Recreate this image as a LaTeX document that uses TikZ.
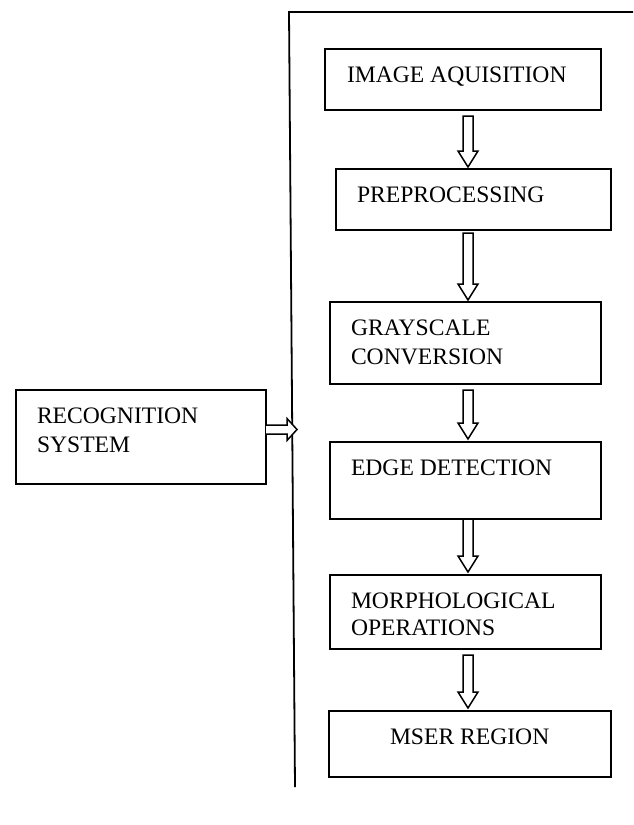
\documentclass[tikz,border=0pt]{standalone}
\usepackage{fontspec}
\setmainfont{Liberation Serif}
\usetikzlibrary{calc}
\tikzset{
  box/.style={draw, line width=1.8pt, inner sep=0pt, outer sep=0pt},
  lbl/.style={anchor=base west, inner sep=0pt, outer sep=0pt, align=left,
    font=\fontsize{23.6}{29}\selectfont},
  blk/.style={draw, line width=1.5pt, line join=miter, fill=white},
  rail/.style={draw, line width=1.8pt}
}
% #1 = start point of shaft, #2 = tip point (vertical, downward)
\newcommand\downblk[2]{%
  \path[blk] ($(#1)+(-5,0)$) -- ($(#2)+(-5,-16)$) -- ($(#2)+(-10,-16)$) -- (#2)
    -- ($(#2)+(10,-16)$) -- ($(#2)+(5,-16)$) -- ($(#1)+(5,0)$) -- cycle;}
\begin{document}
\begin{tikzpicture}[x=1pt,y=-1pt]
\useasboundingbox (0,0) rectangle (633,825);

% rail
\coordinate (rtr) at (633,12);
\coordinate (rtl) at (289,12);
\coordinate (rbot) at (295,787);
\path[rail] (rtr) -- (rtl) -- (rbot);

% boxes
\node[box, minimum width=276pt, minimum height=61pt] (b1) at (463,79.5) {};
\node[box, minimum width=275pt, minimum height=61pt] (b2) at (473.5,199.5) {};
\node[box, minimum width=271pt, minimum height=82pt] (b3) at (465.5,343) {};
\node[box, minimum width=271pt, minimum height=77pt] (b4) at (465.5,480.5) {};
\node[box, minimum width=271pt, minimum height=74pt] (b5) at (465.5,612) {};
\node[box, minimum width=282pt, minimum height=66pt] (b6) at (470,744) {};
\node[box, minimum width=250pt, minimum height=94pt] (rec) at (141,437) {};

% labels
\node[lbl] (t1) at (347,82) {IMAGE AQUISITION};
\node[lbl] (t2) at (357,202) {PREPROCESSING};
\node[lbl] (t3a) at (351,335) {GRAYSCALE};
\node[lbl] (t3b) at (351,364) {CONVERSION};
\node[lbl] (t4) at (351,475) {EDGE DETECTION};
\node[lbl] (t5a) at (351,608) {MORPHOLOGICAL};
\node[lbl] (t5b) at (351,635) {OPERATIONS};
\node[lbl] (t6) at (390,744) {MSER REGION};
\node[lbl] (t7a) at (37,423) {RECOGNITION};
\node[lbl] (t7b) at (37,452) {SYSTEM};

% vertical block arrows
\coordinate (ax) at (468,0);
\downblk{$(b1.south -| ax)+(0,6)$}{$(b2.north -| ax)+(0,-2)$}
\downblk{$(b2.south -| ax)+(0,3)$}{$(b3.north -| ax)+(0,-2)$}
\downblk{$(b3.south -| ax)+(0,6)$}{$(b4.north -| ax)+(0,-3)$}
\downblk{$(b4.south -| ax)+(0,0)$}{$(b5.north -| ax)+(0,-3)$}
\downblk{$(b5.south -| ax)+(0,6)$}{$(b6.north -| ax)+(0,-3)$}

% horizontal block arrow to the rail
\coordinate (hs) at ($(rec.east)+(0,-7.5)$);
\coordinate (ht) at (297,429.5);
\path[blk] ($(hs)+(0,-4.5)$) -- ($(ht)+(-10,-4.5)$) -- ($(ht)+(-10,-11)$) -- (ht)
  -- ($(ht)+(-10,11)$) -- ($(ht)+(-10,4.5)$) -- ($(hs)+(0,4.5)$);
\end{tikzpicture}
\end{document}
